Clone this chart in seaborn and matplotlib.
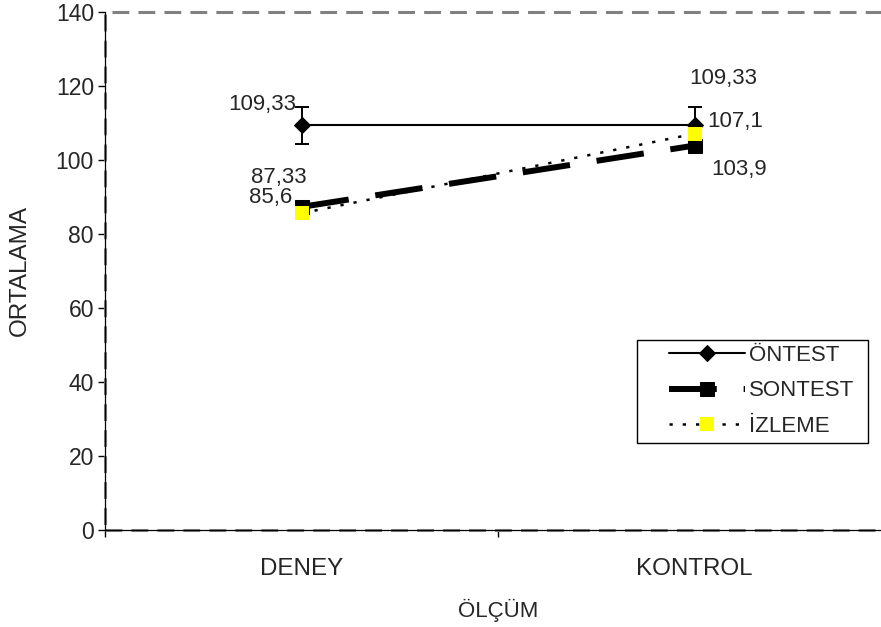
import numpy as np
import pandas as pd
import matplotlib
matplotlib.use("Agg")
import matplotlib.pyplot as plt
from matplotlib.patches import Rectangle
from matplotlib.ticker import FixedLocator
import seaborn as sns

# Groups on the category axis
groups = ["DENEY", "KONTROL"]

# Series means
ontest = [109.33, 109.33]
ontest_err = [5.0, 5.0]
sontest = [87.33, 103.9]
izleme = [85.6, 107.1]

series_names = ["ÖNTEST", "SONTEST", "İZLEME"]
y_ticks = [0, 20, 40, 60, 80, 100, 120, 140]

sns.set_style("white")
plt.rcParams["font.family"] = ["Liberation Sans", "DejaVu Sans"]
plt.rcParams["font.size"] = 16

W, H = 881, 627
fig = plt.figure(figsize=(W / 100, H / 100), dpi=100)
ax = fig.add_axes([105 / W, (H - 530) / H, (891 - 105) / W, (530 - 12) / H])

xpos = np.arange(len(groups))
df = pd.DataFrame({"x": xpos, "ontest": ontest, "sontest": sontest, "izleme": izleme})

# ÖNTEST with error bars
ax.errorbar(xpos, ontest, yerr=ontest_err, fmt="none", ecolor="black",
            elinewidth=1.4, capsize=5, capthick=1.4, zorder=3)
sns.lineplot(data=df, x="x", y="ontest", ax=ax, color="black", linewidth=1.5,
             marker="D", markersize=8, markerfacecolor="black",
             markeredgecolor="black", label=series_names[0], zorder=4)

# SONTEST: heavy long-dash line with black squares
sns.lineplot(data=df, x="x", y="sontest", ax=ax, color="black", linewidth=4.3,
             linestyle=(0, (8, 4.5)), marker="s", markersize=10,
             markerfacecolor="black", markeredgecolor="black",
             label=series_names[1], zorder=4)

# İZLEME: dotted line with yellow squares
sns.lineplot(data=df, x="x", y="izleme", ax=ax, color="black", linewidth=1.8,
             linestyle=(0, (1.3, 4)), marker="s", markersize=10.5,
             markerfacecolor="#FFFF00", markeredgecolor="#FFFF00",
             markeredgewidth=0, label=series_names[2], zorder=5)

# Value labels
def put(x, y, txt, dx, dy, ha):
    ax.annotate(txt, (x, y), xytext=(dx, dy), textcoords="offset pixels",
                ha=ha, va="center", fontsize=16, zorder=6)

put(xpos[0], ontest[0], "109,33", -5, 21, "right")
put(xpos[1], ontest[1], "109,33", -5, 47, "left")
put(xpos[0], sontest[0], "87,33", 5, 29, "right")
put(xpos[1], sontest[1], "103,9", 17, -24, "left")
put(xpos[0], izleme[0], "85,6", -9, 16, "right")
put(xpos[1], izleme[1], "107,1", 13, 12, "left")

# Axes limits and ticks
ax.set_xlim(-0.5, 1.5)
ax.set_ylim(0, 140)
ax.set_yticks(y_ticks)
ax.set_xticks(xpos)
ax.set_xticklabels(groups)
ax.xaxis.set_minor_locator(FixedLocator([-0.5, 0.5, 1.5]))
ax.tick_params(axis="x", which="major", length=0, pad=20, labelsize=17.4)
ax.tick_params(axis="x", which="minor", length=5, width=1, color="black",
               direction="out", bottom=True)
ax.tick_params(axis="y", which="major", length=5, width=1, color="black",
               direction="out", left=True, pad=3, labelsize=16.5)

ax.set_xlabel("ÖLÇÜM", fontsize=16, labelpad=14)
ax.set_ylabel("ORTALAMA", fontsize=17.5, labelpad=18)

for side in ["top", "right"]:
    ax.spines[side].set_visible(False)
for side in ["left", "bottom"]:
    ax.spines[side].set_color("black")
    ax.spines[side].set_linewidth(0.9)
    ax.spines[side].set_zorder(2.5)

# Dashed gray plot-area border
ax.add_patch(Rectangle((0, 0), 1, 1, transform=ax.transAxes, fill=False,
                       edgecolor="#808080", linewidth=2.2,
                       linestyle=(0, (5.5, 3)), clip_on=False, zorder=2))

# Legend box frame, then the legend entries on top of it
ax.add_patch(Rectangle((637 / W, (H - 443) / H), (868 - 637) / W,
                       (443 - 340) / H, transform=fig.transFigure,
                       fill=True, facecolor="white", edgecolor="black",
                       linewidth=1.0, clip_on=False, zorder=6))
handles, labels = ax.get_legend_handles_labels()
leg = ax.legend(handles, labels, loc="upper left",
                bbox_to_anchor=(669 / W, (H - 345) / H),
                bbox_transform=fig.transFigure, frameon=False, fontsize=16,
                handlelength=3.4, handletextpad=0.22, borderpad=0,
                labelspacing=0.65, borderaxespad=0)
leg.set_zorder(7)

fig.savefig("out.png", dpi=100)
